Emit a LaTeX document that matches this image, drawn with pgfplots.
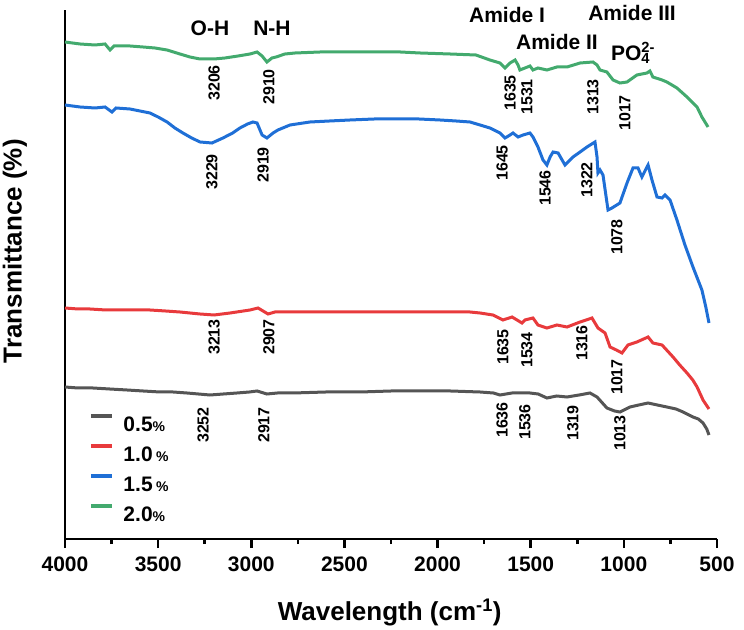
\documentclass[border=0pt]{standalone}
\usepackage{pgfplots}
\pgfplotsset{compat=1.18}
\usepackage{fontspec}
\setmainfont{Liberation Sans}
\newcommand\fs[1]{\fontsize{#1bp}{#1bp}\selectfont\bfseries}
\definecolor{cgray}{RGB}{85,85,85}
\definecolor{cred}{RGB}{232,58,60}
\definecolor{cblue}{RGB}{31,111,214}
\definecolor{cgreen}{RGB}{67,170,110}
\begin{document}
\begin{tikzpicture}
\useasboundingbox (0,0) rectangle (744bp,630bp);
\begin{axis}[
  at={(65bp,91bp)}, anchor=south west,
  scale only axis, width=652bp, height=529bp,
  xmin=500, xmax=4000, x dir=reverse, ymin=0, ymax=529,
  clip=false,
  axis x line*=bottom, axis y line*=left,
  axis line style={line width=2.5bp, -},
  ytick=\empty,
  xtick={500,1000,1500,2000,2500,3000,3500,4000},
  xticklabels={500,1000,1500,2000,2500,3000,3500,4000},
  minor xtick={750,1250,1750,2250,2750,3250,3750},
  tick align=outside,
  major tick length=9bp, minor tick length=5bp,
  every tick/.style={line width=2.5bp, black},
  xticklabel style={font=\fs{21}, inner sep=0pt, yshift=-9bp},
  xlabel={Wavelength (cm\textsuperscript{-1})},
  xlabel style={font=\fs{26}, at={(axis description cs:0.498,-0.138)}, anchor=center},
  ylabel={Transmittance (\%)},
  ylabel style={font=\fs{26}, at={(axis description cs:-0.0767,0.544)}, anchor=center, rotate=0},
  legend style={draw=none, fill=none, inner sep=0pt, outer sep=0pt,
    at={(axis description cs:0.0368,0.2354)}, anchor=north west,
    nodes={text height=15bp, text depth=0bp, inner sep=0pt, font=\fs{21}},
    row sep=13bp},
  legend cell align=left,
  legend image code/.code={\draw[#1, line width=4bp] (0bp,7.5bp) -- (21bp,7.5bp); \path (31bp,7.5bp);},
]
% 0.5 %
\addplot[cgray, line width=3bp] coordinates {
(4000,152)(3930,151)(3850,151)(3760,150)(3667,149)(3580,148)(3490,147)(3420,147)(3345,146)(3222,144)(3150,145)(3077,146)(3010,147)(2969,148)(2916,145)(2860,146)(2776,146)(2600,147)(2416,147)(2250,148)(2094,148)(1930,148)(1772,147)(1700,146)(1665,144)(1600,146)(1504,146)(1460,145)(1413,141)(1360,143)(1305,142)(1240,144)(1182,146)(1144,142)(1091,131)(1050,128)(1021,127)(967,132)(920,134)(870,136)(820,134)(769,132)(720,130)(682,127)(650,124)(629,122)(600,120)(575,116)(555,110)(543,104)};
\addlegendentry{0.5{\fs{14}\%}}
% 1.0 %
\addplot[cred, line width=3bp] coordinates {
(4000,231)(3930,230)(3866,230)(3780,229)(3705,229)(3620,229)(3544,229)(3460,228)(3383,227)(3275,225)(3200,224)(3114,226)(3007,229)(2964,231)(2937,228)(2910,225)(2873,227)(2792,227)(2630,227)(2470,227)(2300,227)(2094,227)(1987,227)(1900,227)(1826,227)(1772,226)(1703,224)(1649,219)(1600,222)(1547,216)(1531,219)(1488,221)(1461,214)(1413,211)(1359,214)(1305,212)(1235,217)(1171,221)(1155,216)(1139,211)(1101,206)(1074,192)(1040,189)(1010,186)(978,194)(930,197)(870,202)(844,196)(795,194)(736,182)(700,174)(661,166)(630,159)(607,152)(575,139)(543,130)};
\addlegendentry{1.0\,{\fs{14}\%}}
% 1.5 %
\addplot[cblue, line width=3bp] coordinates {
(4000,434)(3960,433)(3919,432)(3839,431)(3785,432)(3748,427)(3726,431)(3651,430)(3597,428)(3544,426)(3500,422)(3452,417)(3410,411)(3367,406)(3320,401)(3275,397)(3211,396)(3152,401)(3100,406)(3061,411)(3020,415)(2991,417)(2969,416)(2942,404)(2916,401)(2883,406)(2857,409)(2792,414)(2685,417)(2580,418)(2470,419)(2340,420)(2202,420)(2100,420)(1987,419)(1900,418)(1826,417)(1772,414)(1719,411)(1665,406)(1638,401)(1611,404)(1595,406)(1568,402)(1541,404)(1504,406)(1488,402)(1461,392)(1434,379)(1413,374)(1396,382)(1380,387)(1353,386)(1316,374)(1273,382)(1235,387)(1198,392)(1155,397)(1144,382)(1139,366)(1128,369)(1112,364)(1085,329)(1064,331)(1021,336)(983,356)(951,371)(924,371)(903,362)(876,372)(870,374)(849,359)(822,342)(795,341)(779,344)(752,339)(715,319)(672,294)(629,272)(581,249)(560,232)(543,216)};
\addlegendentry{1.5\,{\fs{14}\%}}
% 2.0 %
\addplot[cgreen, line width=3bp] coordinates {
(4000,497)(3960,496)(3919,495)(3839,494)(3785,495)(3758,489)(3737,493)(3651,493)(3581,492)(3517,491)(3452,489)(3383,485)(3329,482)(3275,480)(3200,480)(3141,481)(3071,483)(3007,485)(2969,487)(2942,483)(2916,477)(2889,481)(2867,482)(2819,485)(2765,486)(2631,487)(2470,487)(2304,487)(2200,487)(2094,486)(1933,485)(1794,484)(1719,479)(1665,476)(1638,471)(1611,476)(1584,479)(1568,474)(1558,469)(1531,471)(1504,473)(1488,469)(1461,471)(1413,469)(1359,472)(1305,472)(1235,476)(1166,477)(1144,474)(1128,469)(1091,467)(1058,459)(1021,456)(983,457)(930,464)(876,466)(860,468)(844,462)(795,459)(769,457)(715,451)(661,442)(607,432)(581,422)(548,412)};
\addlegendentry{2.0{\fs{14}\%}}
% band labels
\node[font=\fs{21}] at (axis cs:3222,511) {O-H};
\node[font=\fs{21}] at (axis cs:2889,511) {N-H};
\node[font=\fs{21}] at (axis cs:1627,524) {Amide I};
\node[font=\fs{21}] at (axis cs:1359,497) {Amide II};
\node[font=\fs{21}] at (axis cs:956,526) {Amide III};
\node[font=\fs{21}] at (axis cs:951,486) {PO\rlap{\textsubscript{4}}\textsuperscript{2-}};
% peak labels
\tikzset{pk/.style={rotate=90, font=\fs{16}, inner sep=0pt}}
\node[pk] at (axis cs:3200,456) {3206};
\node[pk] at (axis cs:2905,452) {2910};
\node[pk] at (axis cs:1611,446) {1635};
\node[pk] at (axis cs:1520,442) {1531};
\node[pk] at (axis cs:1166,442) {1313};
\node[pk] at (axis cs:994,426) {1017};
\node[pk] at (axis cs:3211,367) {3229};
\node[pk] at (axis cs:2937,374) {2919};
\node[pk] at (axis cs:1654,376) {1645};
\node[pk] at (axis cs:1423,351) {1546};
\node[pk] at (axis cs:1198,359) {1322};
\node[pk] at (axis cs:1037,302) {1078};
\node[pk] at (axis cs:3200,202) {3213};
\node[pk] at (axis cs:2905,202) {2907};
\node[pk] at (axis cs:1649,192) {1635};
\node[pk] at (axis cs:1520,189) {1534};
\node[pk] at (axis cs:1225,196) {1316};
\node[pk] at (axis cs:1037,162) {1017};
\node[pk] at (axis cs:3259,114) {3252};
\node[pk] at (axis cs:2932,114) {2917};
\node[pk] at (axis cs:1654,119) {1636};
\node[pk] at (axis cs:1531,117) {1536};
\node[pk] at (axis cs:1273,116) {1319};
\node[pk] at (axis cs:1021,106) {1013};
\end{axis}
\end{tikzpicture}
\end{document}
